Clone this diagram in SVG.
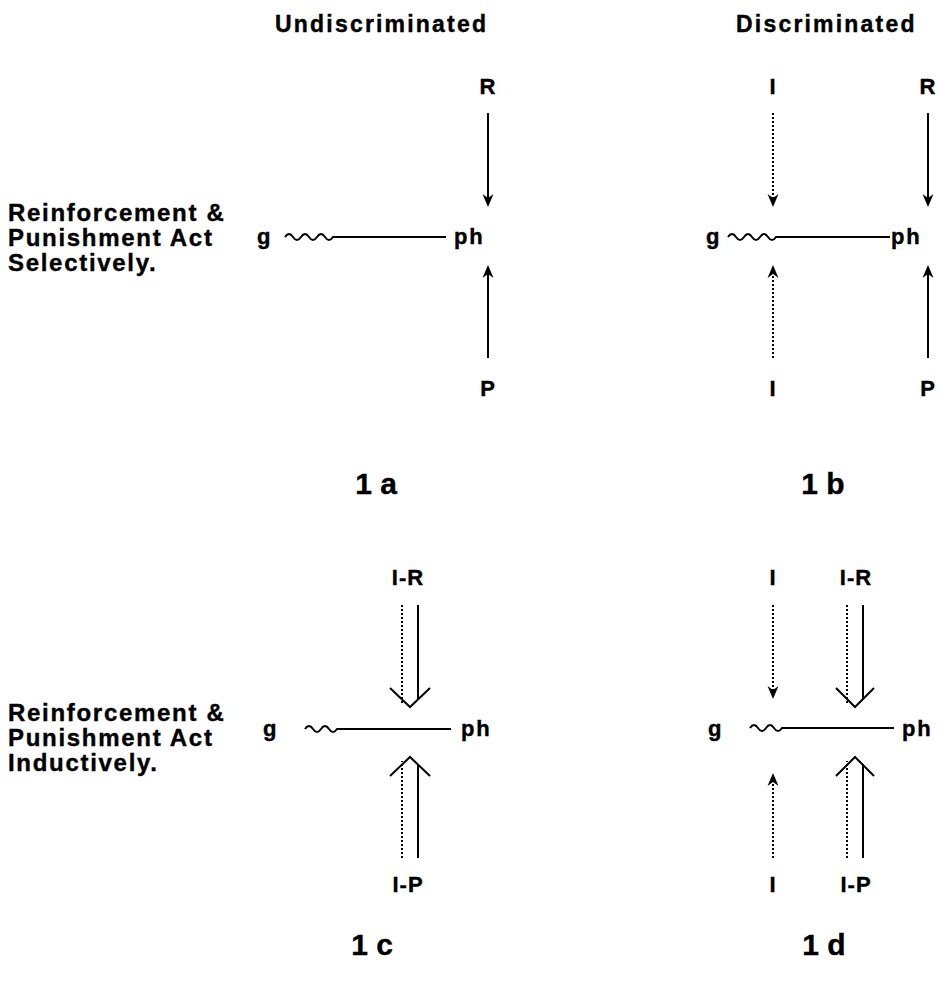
<svg xmlns="http://www.w3.org/2000/svg" width="940" height="989" viewBox="0 0 940 989">
<style>
text{font-family:"Liberation Sans",Arial,Helvetica,sans-serif;font-weight:bold;fill:#000;stroke:#000;stroke-width:0.4}
.t{font-size:23px;letter-spacing:2.2px}
.side{font-size:24px;letter-spacing:1.7px}
.lbl{font-size:22px;text-anchor:middle;letter-spacing:1px}
.gp{font-size:22px;letter-spacing:1.8px}
.num{font-size:30px;text-anchor:middle}
.ln{stroke:#000;stroke-width:2;fill:none}
.dt{stroke:#000;stroke-width:2;fill:none;stroke-dasharray:2 2}
.v{stroke:#000;stroke-width:2;fill:none;stroke-linejoin:miter}
</style>
<defs>
<marker id="ah" viewBox="-5 -7 16 14" refX="0" refY="0" markerWidth="16" markerHeight="14" markerUnits="userSpaceOnUse" orient="auto">
<path d="M9,0 L-4,-5.5 L0,0 L-4,5.5 Z" fill="#000"/>
</marker>
</defs>
<rect width="940" height="989" fill="#fff"/>
<g id="titles">
<text class="t" x="275" y="32">Undiscriminated</text>
<text class="t" x="736" y="32">Discriminated</text>
</g>
<g id="side-labels">
<text class="side" x="8" y="221">Reinforcement &amp;</text>
<text class="side" x="8" y="246">Punishment Act</text>
<text class="side" x="8" y="271">Selectively.</text>
<text class="side" x="8" y="721">Reinforcement &amp;</text>
<text class="side" x="8" y="746">Punishment Act</text>
<text class="side" x="8" y="771">Inductively.</text>
</g>
<g id="connectors">
<path class="ln" d="M285,237 q4,-6 8,0 t8,0 t8,0 t8,0 t8,0 t8,0 L446,237"/>
<line class="ln" x1="488" y1="113" x2="488" y2="198" marker-end="url(#ah)"/>
<line class="ln" x1="488" y1="358" x2="488" y2="274" marker-end="url(#ah)"/>
<path class="ln" d="M728,237 q4,-6 8,0 t8,0 t8,0 t8,0 t8,0 t8,0 L890,237"/>
<line class="dt" x1="773" y1="113" x2="773" y2="198" marker-end="url(#ah)"/>
<line class="dt" x1="773" y1="358" x2="773" y2="274" marker-end="url(#ah)"/>
<line class="ln" x1="928" y1="113" x2="928" y2="198" marker-end="url(#ah)"/>
<line class="ln" x1="928" y1="358" x2="928" y2="274" marker-end="url(#ah)"/>
<path class="ln" d="M305,729 q4,-6 8,0 t8,0 t8,0 t8,0 L451,729"/>
<line class="dt" x1="402" y1="605" x2="402" y2="703"/>
<line class="ln" x1="418" y1="605" x2="418" y2="700"/>
<polyline class="v" points="390,688 410,707 430,688"/>
<line class="dt" x1="402" y1="858" x2="402" y2="761"/>
<line class="ln" x1="418" y1="858" x2="418" y2="764"/>
<polyline class="v" points="390,776 410,757 430,776"/>
<path class="ln" d="M750,728 q4,-6 8,0 t8,0 t8,0 t8,0 L894,728"/>
<line class="dt" x1="773" y1="605" x2="773" y2="690" marker-end="url(#ah)"/>
<line class="dt" x1="773" y1="858" x2="773" y2="782" marker-end="url(#ah)"/>
<line class="dt" x1="847" y1="605" x2="847" y2="703"/>
<line class="ln" x1="863" y1="605" x2="863" y2="700"/>
<polyline class="v" points="836,688 855,707 874,688"/>
<line class="dt" x1="847" y1="858" x2="847" y2="761"/>
<line class="ln" x1="863" y1="858" x2="863" y2="764"/>
<polyline class="v" points="836,776 855,757 874,776"/>
</g>
<g id="panel-1a">
<text class="lbl" x="488" y="94">R</text>
<text class="gp" x="257" y="244">g</text>
<text class="gp" x="454" y="244">ph</text>
<text class="lbl" x="488" y="396">P</text>
<text class="num" x="376" y="494">1 a</text>
</g>
<g id="panel-1b">
<text class="lbl" x="773" y="94">I</text>
<text class="lbl" x="928" y="94">R</text>
<text class="gp" x="706" y="244">g</text>
<text class="gp" x="891" y="244">ph</text>
<text class="lbl" x="773" y="396">I</text>
<text class="lbl" x="928" y="396">P</text>
<text class="num" x="823" y="494">1 b</text>
</g>
<g id="panel-1c">
<text class="lbl" x="408" y="585">I-R</text>
<text class="gp" x="263" y="736">g</text>
<text class="gp" x="461" y="736">ph</text>
<text class="lbl" x="408" y="892">I-P</text>
<text class="num" x="372" y="955">1 c</text>
</g>
<g id="panel-1d">
<text class="lbl" x="773" y="585">I</text>
<text class="lbl" x="856" y="585">I-R</text>
<text class="gp" x="708" y="736">g</text>
<text class="gp" x="902" y="736">ph</text>
<text class="lbl" x="773" y="892">I</text>
<text class="lbl" x="856" y="892">I-P</text>
<text class="num" x="824" y="955">1 d</text>
</g>
</svg>
